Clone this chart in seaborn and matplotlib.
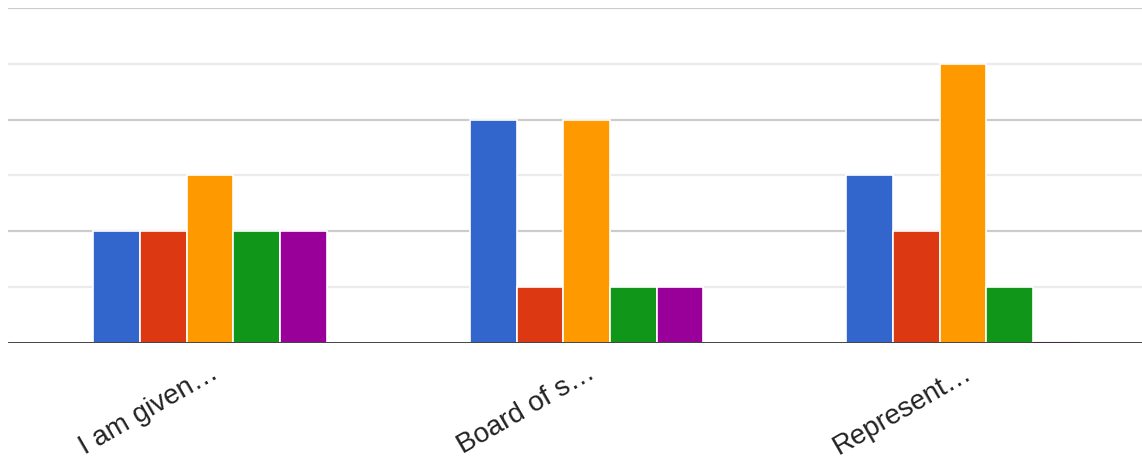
import matplotlib
matplotlib.use("Agg")
import matplotlib.pyplot as plt
import seaborn as sns
import pandas as pd

categories = ["I am given…", "Board of s…", "Represent…"]
series = ["Series 1", "Series 2", "Series 3", "Series 4", "Series 5"]
values_s1 = [2, 4, 3]
values_s2 = [2, 1, 2]
values_s3 = [3, 4, 5]
values_s4 = [2, 1, 1]
values_s5 = [2, 1, 0]
colors = ["#3366cc", "#dc3912", "#ff9900", "#109618", "#990099"]

rows = []
for s, vals in zip(series, [values_s1, values_s2, values_s3, values_s4, values_s5]):
    for c, v in zip(categories, vals):
        rows.append({"category": c, "series": s, "value": v})
df = pd.DataFrame(rows)

sns.set_theme(style="white")
plt.rcParams['font.family'] = ['Liberation Sans', 'DejaVu Sans']

fig = plt.figure(figsize=(11.42, 4.61), dpi=100)
ax = fig.add_axes([8/1142, (461-343)/461, (1142-8)/1142, (343-8)/461])

sns.barplot(data=df, x="category", y="value", hue="series", palette=colors,
            width=0.62, edgecolor="white", linewidth=1.2, legend=False,
            saturation=1, ax=ax, zorder=3)

# zero-height bars shown as a thin coloured line
for patch in ax.patches:
    if patch.get_height() == 0:
        patch.set_edgecolor(patch.get_facecolor())
        patch.set_linewidth(1.5)

ax.set_ylim(0, 6)
ax.set_xlim(-0.5365, 2.475)
for y in range(1, 7):
    col = "#cccccc" if y % 2 == 0 else "#ebebeb"
    ax.axhline(y, color=col, linewidth=1.6, zorder=1)
ax.axhline(0, color="#333333", linewidth=2, zorder=4)

ax.set_yticks([])
ax.set_xlabel("")
ax.set_ylabel("")
for sp in ax.spines.values():
    sp.set_visible(False)

ax.set_xticks(range(len(categories)))
ax.set_xticklabels(categories, rotation=30, ha="right", rotation_mode="anchor",
                   fontsize=20, color="#222222")
ax.tick_params(axis="x", length=0, pad=12)

fig.savefig("out.png", dpi=100)
